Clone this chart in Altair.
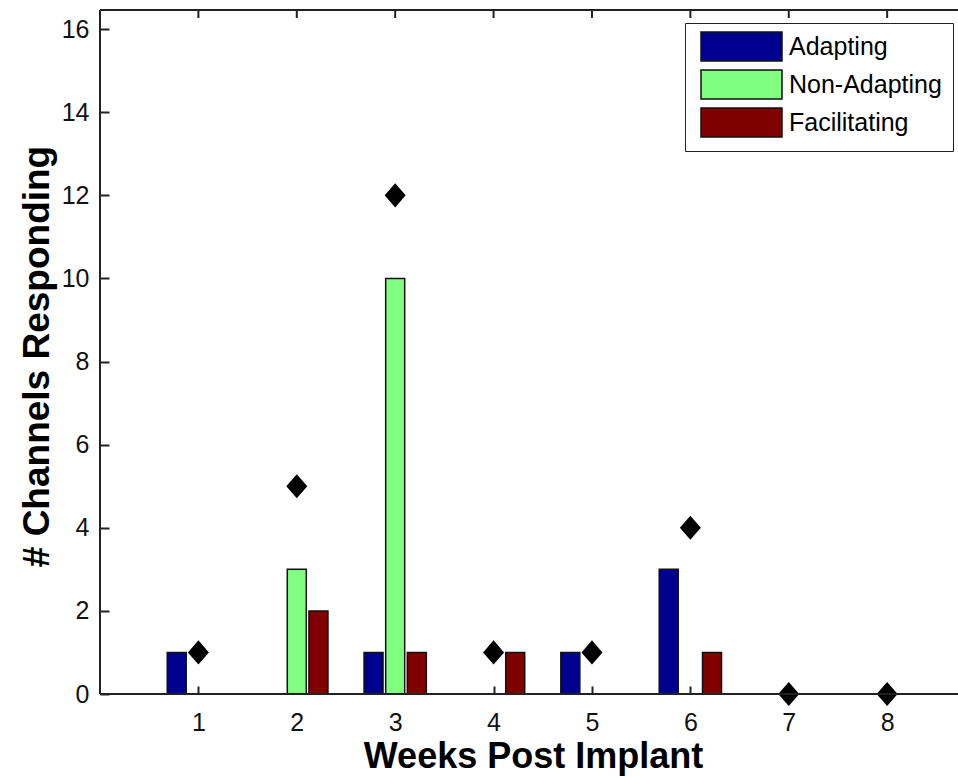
import altair as alt
import pandas as pd

# Channels responding per week, split by response type
weeks = [1, 2, 3, 4, 5, 6, 7, 8]
adapting = [1, 0, 1, 0, 1, 3, 0, 0]
non_adapting = [0, 3, 10, 0, 0, 0, 0, 0]
facilitating = [0, 2, 1, 1, 0, 1, 0, 0]
total_channels = [1, 5, 12, 1, 1, 4, 0, 0]
y_ticks = [0, 2, 4, 6, 8, 10, 12, 14, 16]

series_names = ["Adapting", "Non-Adapting", "Facilitating"]
series_colors = ["#00008F", "#80FF80", "#800000"]

FONT = "Arial, Liberation Sans, sans-serif"
W, H = 858, 684
X_MAX, Y_MAX = 8.72, 16.46
LINE_W = 2

bars = pd.DataFrame({
    "wk": weeks * 3,
    "series": [s for s in series_names for _ in weeks],
    "val": adapting + non_adapting + facilitating,
})
bars = bars[bars["val"] > 0]
totals = pd.DataFrame({"wk": weeks, "val": total_channels})

x_scale = alt.Scale(domain=[0, X_MAX], nice=False, zero=False, padding=0)
y_scale = alt.Scale(domain=[0, Y_MAX], nice=False, zero=False, padding=0)

# axes are pulled inside the box so their ticks point inward;
# the box edges themselves are drawn as separate rules
x_axis = alt.Axis(
    values=weeks, format="d", grid=False, domain=False,
    offset=-8, ticks=True, tickSize=8, tickColor="#222", tickWidth=LINE_W,
    labelFontSize=25, labelFont=FONT, labelColor="#111", labelPadding=16,
    title="Weeks Post Implant", titleFont=FONT, titleFontSize=36,
    titleFontWeight="bold", titleColor="black",
    titleX=433, titleY=81, titleBaseline="alphabetic", titleAlign="center",
)
y_axis = alt.Axis(
    values=y_ticks, grid=False, domain=False,
    offset=-9, ticks=True, tickSize=9, tickColor="#222", tickWidth=LINE_W,
    labelFontSize=25, labelFont=FONT, labelColor="#111", labelPadding=11,
    title="# Channels Responding", titleFont=FONT, titleFontSize=37,
    titleFontWeight="bold", titleColor="black", titleAngle=270,
    titleX=-61, titleY=346, titleBaseline="alphabetic", titleAlign="center",
)


def x_enc(field="wk:Q"):
    return alt.X(field, scale=x_scale, axis=x_axis)


def y_enc(field="val:Q"):
    return alt.Y(field, stack=None, scale=y_scale, axis=y_axis)


# grouped bars: each series shifted left/centre/right of its week
bar_layer = alt.Chart(bars).transform_calculate(
    pos="datum.wk + (datum.series === 'Adapting' ? -0.22 : "
        "datum.series === 'Facilitating' ? 0.22 : 0)"
).mark_bar(size=19, stroke="#111", strokeWidth=1.5, orient="vertical").encode(
    x=x_enc("pos:Q"),
    y=y_enc(),
    color=alt.Color("series:N", scale=alt.Scale(domain=series_names, range=series_colors),
                    legend=alt.Legend(
                        title=None, orient="none", legendX=585, legendY=13,
                        direction="vertical",
                        symbolType="M-4.2,-1.5H4.2V1.5H-4.2Z", symbolSize=372,
                        symbolStrokeColor="#111", symbolStrokeWidth=1.5,
                        symbolOpacity=1, symbolOffset=33, labelOffset=35,
                        labelFontSize=25, labelFont=FONT, labelColor="black",
                        rowPadding=3, padding=11,
                        strokeColor="#222", fillColor="white",
                    )),
)

# total channels per week
diamonds = alt.Chart(totals).mark_point(
    shape="M-1,0L0,-1.15L1,0L0,1.15Z", filled=True, color="black",
    size=441, opacity=1,
).encode(x=x_enc(), y=y_enc())

# short downward ticks hanging from the top edge at each week
top_ticks = alt.Chart(totals).transform_calculate(
    top=str(Y_MAX)
).mark_point(
    shape="M0,0L0,2", filled=False, stroke="#222", strokeWidth=LINE_W,
    size=64, opacity=1,
).encode(x=x_enc(), y=y_enc("top:Q"))

# box edges
top_line = alt.Chart(totals).mark_rule(color="#222", strokeWidth=LINE_W).encode(
    x=alt.value(0), x2=alt.value(W), y=alt.value(0))
bottom_line = alt.Chart(totals).mark_rule(color="#222", strokeWidth=LINE_W).encode(
    x=alt.value(0), x2=alt.value(W), y=alt.value(H))
left_line = alt.Chart(totals).mark_rule(color="#222", strokeWidth=LINE_W).encode(
    x=alt.value(0), y=alt.value(0), y2=alt.value(H))

chart = alt.layer(
    bar_layer, diamonds, top_ticks, top_line, bottom_line, left_line
).properties(
    width=W, height=H,
    padding={"left": 100, "top": 10, "right": 0, "bottom": 84},
    autosize=alt.AutoSizeParams(type="none"),
    background="white",
).configure_view(stroke=None)

chart.save("out.html", embed_options={"renderer": "svg", "actions": False})
